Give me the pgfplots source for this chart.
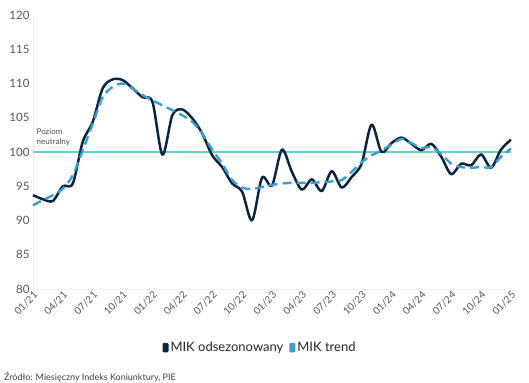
\documentclass[border=0pt]{standalone}
\usepackage{pgfplots}
\pgfplotsset{compat=1.18}
\usepackage{fontspec}
\setmainfont{Lato}
\definecolor{navy}{HTML}{0B2540}
\definecolor{trendc}{HTML}{3A9FD0}
\definecolor{cyanline}{HTML}{5FD6C6}
\definecolor{txt}{HTML}{555555}
\begin{document}
\begin{tikzpicture}
\begin{axis}[
  scale only axis, width=478pt, height=274pt,
  xmin=0, xmax=48, ymin=80, ymax=120,
  ytick={80,85,...,120},
  xtick={0,3,...,48},
  xticklabels={01/21,04/21,07/21,10/21,01/22,04/22,07/22,10/22,01/23,04/23,07/23,10/23,01/24,04/24,07/24,10/24,01/25},
  x tick label style={rotate=45, anchor=north east, font=\fontsize{10}{12}\selectfont, text=txt, inner sep=1pt},
  y tick label style={font=\fontsize{11.5}{13}\selectfont, text=txt},
  /pgf/number format/assume math mode=true,
  major tick length=0pt,
  axis line style={gray!12},
  axis x line*=bottom, axis y line*=left,
  clip=false,
  legend columns=2,
  legend style={at={(0.475,-0.215)}, anchor=center, draw=none, fill=none,
    font=\fontsize{13}{15}\selectfont, text=black!85,
    /tikz/every even column/.append style={column sep=4pt}},
  legend image code/.code={\fill[#1, draw=none, solid, rounded corners=1.2pt] (0pt,-4.5pt) rectangle (6pt,5pt);},
]
\addplot[color=cyanline, line width=1.3pt, forget plot] coordinates {(0,100) (48,100)};
\addplot[navy, line width=2.5pt, smooth, tension=0.5, line join=round] coordinates {
(0,93.7) (1,93.1) (2,92.85) (3,95.0) (4,95.4) (5,101.5) (6,104.4) (7,109.3) (8,110.6) (9,110.5)
(10,109.3) (11,108.0) (12,107.3) (13,99.6) (14,105.4) (15,106.2) (16,104.9) (17,102.7) (18,99.5) (19,97.8)
(20,95.4) (21,94.2) (22,90.0) (23,96.25) (24,95.1) (25,100.35) (26,97.1) (27,94.5) (28,96.0) (29,94.3)
(30,97.2) (31,94.8) (32,96.35) (33,98.3) (34,104.0) (35,100.0) (36,101.3) (37,102.1) (38,101.2) (39,100.25)
(40,101.2) (41,99.3) (42,96.75) (43,98.3) (44,98.05) (45,99.65) (46,97.7) (47,100.35) (48,101.8)};
\addlegendentry{MIK odsezonowany}
\addplot[trendc, line width=2.4pt, smooth, tension=0.5, dash pattern=on 9pt off 5pt] coordinates {
(0,92.2) (1,93.0) (2,93.7) (3,94.65) (4,96.6) (5,100.25) (6,104.1) (7,108.0) (8,109.5) (9,110.0)
(10,109.25) (11,108.3) (12,107.55) (13,106.8) (14,106.1) (15,105.35) (16,104.4) (17,102.7) (18,100.35) (19,98.3)
(20,95.9) (21,94.8) (22,94.6) (23,94.9) (24,95.2) (25,95.4) (26,95.5) (27,95.5) (28,95.5) (29,95.6)
(30,95.7) (31,95.9) (32,97.1) (33,98.5) (34,99.5) (35,100.2) (36,101.1) (37,101.9) (38,101.3) (39,100.6)
(40,100.7) (41,99.7) (42,98.3) (43,97.8) (44,97.7) (45,97.8) (46,97.8) (47,99.3) (48,100.5)};
\addlegendentry{MIK trend}
\node[anchor=south west, align=left, font=\fontsize{8}{10}\selectfont, text=black!70, inner sep=0pt]
  at (axis cs:0.35,100.9) {Poziom\\neutralny};
\node[anchor=west, font=\fontsize{9}{10}\selectfont, text=black!75, inner sep=0pt]
  at (rel axis cs:-0.061,-0.321) {Źródło: Miesięczny Indeks Koniunktury, PIE};
\path (rel axis cs:-0.069,-0.343) rectangle (rel axis cs:1.0377,1.0547);
\end{axis}
\end{tikzpicture}
\end{document}
